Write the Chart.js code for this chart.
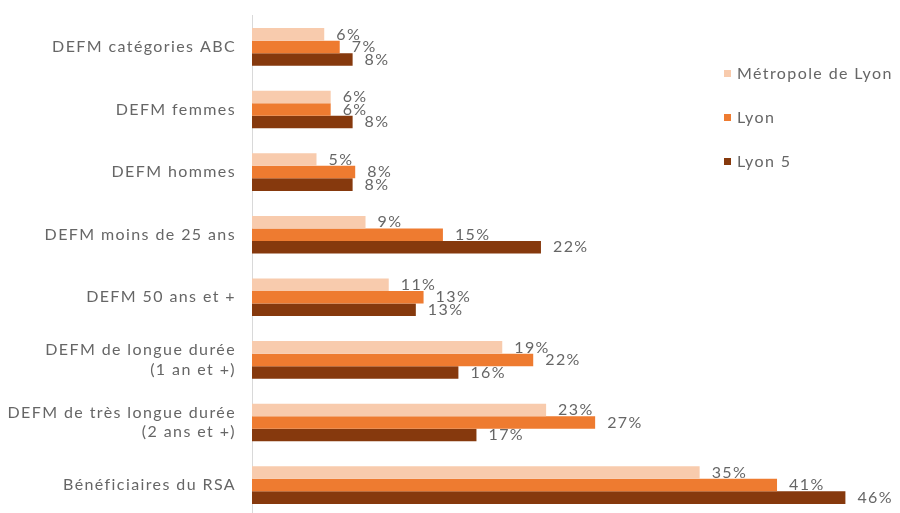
<!DOCTYPE html>
<html>
<head>
<meta charset="utf-8">
<script src="https://cdn.jsdelivr.net/npm/chart.js@4/dist/chart.umd.min.js"></script>
<style>
  html, body { margin: 0; padding: 0; background: #fff; }
  #wrap { position: relative; width: 900px; height: 513px; overflow: hidden; }
  #chart { position: absolute; left: 0; top: -10px; }
  #legend { position: absolute; left: 724px; top: 63px; font-family: Lato, sans-serif; font-size: 16px; letter-spacing: 1.4px; color: #666; }
  #legend div { height: 44px; display: flex; align-items: flex-start; }
  #legend span.box { display: inline-block; width: 7px; height: 7px; margin: 7px 6px 0 0; }
</style>
</head>
<body>
<div id="wrap">
  <canvas id="chart" width="900" height="552"></canvas>
  <div id="legend"></div>
</div>
<script>
const categories = [
  'DEFM catégories ABC',
  'DEFM femmes',
  'DEFM hommes',
  'DEFM moins de 25 ans',
  'DEFM 50 ans et +',
  ['DEFM de longue durée', '(1 an et +)'],
  ['DEFM de très longue durée', '(2 ans et +)'],
  'Bénéficiaires du RSA'
];
const seriesNames = ['Métropole de Lyon', 'Lyon', 'Lyon 5'];
const metropole = [5.6, 6.1, 5.0, 8.8, 10.6, 19.4, 22.8, 34.7];
const lyon = [6.8, 6.1, 8.0, 14.8, 13.3, 21.8, 26.6, 40.7];
const lyon5 = [7.8, 7.8, 7.8, 22.4, 12.7, 16.0, 17.4, 46.0];
const colors = ['#f8cbad', '#ee7b30', '#86390d'];

// wider letter spacing like the original
const spacing = {
  id: 'spacing',
  beforeDraw(chart) { chart.ctx.letterSpacing = '1.4px'; }
};

// labels at bar end
const valueLabels = {
  id: 'valueLabels',
  afterDatasetsDraw(chart) {
    const ctx = chart.ctx;
    ctx.save();
    ctx.font = '16px Lato, sans-serif';
    ctx.fillStyle = '#666';
    ctx.textBaseline = 'middle';
    chart.data.datasets.forEach((ds, i) => {
      chart.getDatasetMeta(i).data.forEach((bar, j) => {
        ctx.fillText(Math.round(ds.data[j]) + '%', bar.x + 12, bar.y);
      });
    });
    ctx.restore();
  }
};

new Chart(document.getElementById('chart'), {
  type: 'bar',
  data: {
    labels: categories,
    datasets: [metropole, lyon, lyon5].map((d, i) => ({
      label: seriesNames[i],
      data: d,
      backgroundColor: colors[i],
      categoryPercentage: 0.6,
      barPercentage: 1.0
    }))
  },
  options: {
    indexAxis: 'y',
    responsive: false,
    animation: false,
    layout: { padding: { top: 6, right: 3, bottom: 4, left: 0 } },
    plugins: { legend: { display: false }, tooltip: { enabled: false } },
    scales: {
      x: { display: false, min: 0, max: 50 },
      y: {
        afterFit: s => { s.width = 252; },
        grid: { display: false, drawTicks: false },
        border: { display: true, color: '#d9d9d9' },
        ticks: { padding: 16, color: '#666', font: { family: 'Lato, sans-serif', size: 16 } }
      }
    }
  },
  plugins: [spacing, valueLabels]
});

const legend = document.getElementById('legend');
seriesNames.forEach((n, i) => {
  const row = document.createElement('div');
  row.innerHTML = '<span class="box" style="background:' + colors[i] + '"></span>' + n;
  legend.appendChild(row);
});
</script>
</body>
</html>
